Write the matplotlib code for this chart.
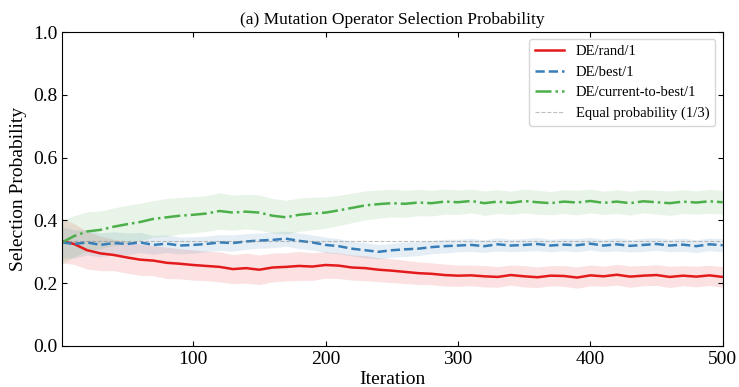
import numpy as np
import matplotlib
matplotlib.use("Agg")
import matplotlib.pyplot as plt

plt.rcParams['font.family'] = ['Liberation Serif', 'DejaVu Serif']

iterations = [1] + list(range(10, 501, 10))

rand_mean = [0.335, 0.325, 0.305, 0.295, 0.290, 0.282, 0.275, 0.272, 0.265, 0.262,
             0.258, 0.255, 0.252, 0.245, 0.248, 0.243, 0.250, 0.252, 0.255, 0.253,
             0.258, 0.256, 0.250, 0.248, 0.243, 0.240, 0.236, 0.232, 0.230, 0.226,
             0.224, 0.225, 0.222, 0.220, 0.226, 0.222, 0.219, 0.224, 0.223, 0.218,
             0.225, 0.222, 0.227, 0.221, 0.224, 0.226, 0.220, 0.224, 0.221, 0.225,
             0.220]
rand_std = [0.070, 0.065, 0.060, 0.055, 0.050, 0.050, 0.050, 0.048, 0.050, 0.048,
            0.048, 0.047, 0.048, 0.046, 0.048, 0.047, 0.046, 0.045, 0.046, 0.044,
            0.042, 0.041, 0.040, 0.040, 0.038, 0.038, 0.037, 0.036, 0.035, 0.035,
            0.034, 0.033, 0.034, 0.033, 0.032, 0.034, 0.033, 0.032, 0.033, 0.034,
            0.033, 0.032, 0.033, 0.034, 0.032, 0.033, 0.034, 0.032, 0.033, 0.032,
            0.033]

best_mean = [0.330, 0.325, 0.330, 0.322, 0.328, 0.325, 0.330, 0.322, 0.326, 0.320,
             0.322, 0.325, 0.330, 0.328, 0.333, 0.336, 0.338, 0.342, 0.335, 0.330,
             0.322, 0.318, 0.310, 0.305, 0.300, 0.305, 0.308, 0.310, 0.315, 0.318,
             0.320, 0.322, 0.318, 0.324, 0.320, 0.322, 0.325, 0.320, 0.323, 0.321,
             0.326, 0.320, 0.324, 0.319, 0.322, 0.325, 0.320, 0.323, 0.318, 0.324,
             0.321]
best_std = [0.050, 0.045, 0.040, 0.038, 0.036, 0.035, 0.032, 0.030, 0.028, 0.027,
            0.026, 0.025, 0.025, 0.026, 0.025, 0.024, 0.025, 0.024, 0.025, 0.024,
            0.025, 0.024, 0.023, 0.024, 0.023, 0.022, 0.023, 0.022, 0.021, 0.022,
            0.020, 0.021, 0.020, 0.021, 0.020, 0.020, 0.021, 0.020, 0.020, 0.021,
            0.020, 0.020, 0.021, 0.020, 0.021, 0.020, 0.020, 0.021, 0.020, 0.020,
            0.021]

ctb_mean = [0.330, 0.350, 0.365, 0.370, 0.380, 0.388, 0.395, 0.405, 0.410, 0.415,
            0.418, 0.422, 0.430, 0.425, 0.428, 0.425, 0.415, 0.410, 0.418, 0.422,
            0.425, 0.432, 0.440, 0.448, 0.452, 0.455, 0.453, 0.457, 0.455, 0.460,
            0.458, 0.462, 0.455, 0.460, 0.456, 0.462, 0.458, 0.455, 0.460, 0.457,
            0.462, 0.456, 0.460, 0.455, 0.461, 0.458, 0.455, 0.460, 0.457, 0.461,
            0.458]
ctb_std = [0.070, 0.065, 0.062, 0.060, 0.060, 0.060, 0.060, 0.058, 0.060, 0.058,
           0.058, 0.057, 0.058, 0.056, 0.055, 0.056, 0.055, 0.054, 0.053, 0.052,
           0.050, 0.048, 0.047, 0.046, 0.045, 0.044, 0.043, 0.042, 0.041, 0.040,
           0.039, 0.038, 0.039, 0.038, 0.037, 0.038, 0.038, 0.037, 0.038, 0.039,
           0.038, 0.037, 0.038, 0.038, 0.037, 0.038, 0.039, 0.038, 0.037, 0.038,
           0.038]

labels = ['DE/rand/1', 'DE/best/1', 'DE/current-to-best/1']
colors = ['#e41a1c', '#377eb8', '#4daf4a']
styles = ['-', '--', '-.']


def main():
    x = np.array(iterations)
    series = [(rand_mean, rand_std), (best_mean, best_std), (ctb_mean, ctb_std)]

    fig, ax = plt.subplots(figsize=(7.39, 3.87), dpi=100)
    fig.subplots_adjust(left=0.084, right=0.978, bottom=0.106, top=0.917)

    for (m, s), lab, c, ls in zip(series, labels, colors, styles):
        m = np.array(m)
        s = np.array(s)
        ax.fill_between(x, m - s, m + s, color=c, alpha=0.13, linewidth=0)
        ax.plot(x, m, ls, color=c, linewidth=1.8, label=lab)

    ax.axhline(1 / 3, color='gray', linestyle='--', linewidth=0.8, alpha=0.5,
               label='Equal probability (1/3)')

    ax.set_xlim(1, 500)
    ax.set_ylim(0, 1.0)
    ax.set_xticks([100, 200, 300, 400, 500])
    ax.set_yticks([0.0, 0.2, 0.4, 0.6, 0.8, 1.0])
    ax.tick_params(direction='in', top=True, right=True, labelsize=14)
    ax.set_xlabel('Iteration', fontsize=14, labelpad=2)
    ax.set_ylabel('Selection Probability', fontsize=14)
    ax.set_title('(a) Mutation Operator Selection Probability', fontsize=12.5)
    ax.legend(loc='upper right', fontsize=10.5)

    fig.savefig('out.png', dpi=100)


if __name__ == "__main__":
    main()
